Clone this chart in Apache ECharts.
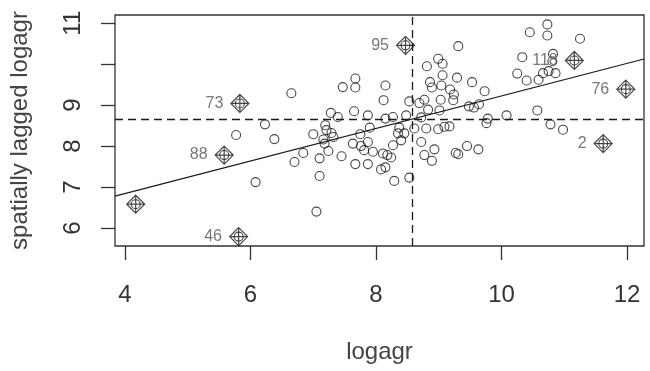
<!DOCTYPE html>
<html>
<head>
<meta charset="utf-8">
<script src="https://cdn.jsdelivr.net/npm/echarts@6/dist/echarts.min.js"></script>
<style>
  html, body { margin: 0; padding: 0; background: #fff; }
  #chart { width: 650px; height: 371px; }
</style>
</head>
<body>
<div id="chart"></div>
<script>
// logagr against its spatial lag (Moran scatterplot)
const logagr = [
	5.77, 6.23, 6.38, 6.08, 6.65, 6.70, 6.84,
	7.00, 7.19, 7.21, 7.29, 7.32, 7.16, 7.18, 7.24, 7.10, 7.10,
	7.05, 7.45, 7.47, 7.67, 7.67, 7.28, 7.39, 7.65, 7.87, 8.15,
	8.12, 8.15, 8.27, 8.48, 7.75, 7.90, 8.37, 8.35, 8.40, 7.63,
	7.76, 7.87, 7.81, 7.95, 8.27, 8.11, 8.18, 8.24, 7.67, 7.87,
	8.08, 8.15, 8.29, 8.53,
	9.31, 10.33, 10.45, 10.73, 10.73, 11.25, 10.82, 10.81, 8.81, 8.99,
	9.06, 9.06, 8.86, 8.89, 9.04, 9.29, 9.18, 9.24, 9.53, 9.73,
	10.25, 10.40, 10.59, 10.66, 10.75, 10.86, 9.23, 9.03, 8.77, 8.53,
	8.69, 8.83, 9.01, 9.48, 9.56, 9.64, 8.72, 9.78, 9.76, 10.08,
	10.57, 10.78, 10.98, 8.61, 8.80, 8.99, 9.09, 9.17, 8.45, 8.72,
	8.93, 8.77, 8.89, 9.27, 9.31, 9.45, 9.63
];
const laggedLogagr = [
	8.27, 8.53, 8.17, 7.12, 9.29, 7.61, 7.83,
	8.29, 8.51, 8.39, 8.32, 8.22, 8.16, 8.06, 7.88, 7.70, 7.27,
	6.40, 7.75, 9.44, 9.65, 9.43, 8.81, 8.71, 8.85, 8.75, 9.48,
	9.12, 8.67, 8.71, 8.75, 8.29, 8.45, 8.45, 8.31, 8.14, 8.06,
	8.00, 8.10, 7.90, 7.86, 8.02, 7.82, 7.78, 7.72, 7.56, 7.56,
	7.43, 7.48, 7.15, 7.23,
	10.44, 10.17, 10.78, 10.97, 10.70, 10.62, 10.25, 10.07, 9.95, 10.13,
	10.01, 9.73, 9.56, 9.43, 9.48, 9.67, 9.38, 9.26, 9.56, 9.34,
	9.77, 9.60, 9.62, 9.78, 9.83, 9.78, 9.12, 9.13, 9.13, 9.09,
	9.05, 8.89, 8.87, 8.97, 8.94, 9.02, 8.70, 8.67, 8.56, 8.75,
	8.87, 8.53, 8.40, 8.43, 8.43, 8.41, 8.47, 8.48, 8.31, 8.10,
	7.92, 7.78, 7.64, 7.83, 7.80, 8.00, 7.92
];

// influential observations (diamond + plus)
const infLabels = [ '73', '95', '118', '76', '2', '88', '', '46' ];
const infX = [ 5.83, 8.47, 11.16, 11.98, 11.62, 5.58, 4.17, 5.81 ];
const infY = [ 9.04, 10.46, 10.09, 9.39, 8.06, 7.78, 6.58, 5.79 ];

const meanX = 8.57;
const meanY = 8.65;
const fitSlope = 0.397;
const fitIntercept = 5.255;

const xTicks = [ 4, 6, 8, 10, 12 ];
const yTicks = [ 6, 7, 8, 9, 10, 11 ];
const yTickLabels = [ 6, 7, 8, 9, 11 ];

const xMin = 3.84, xMax = 12.27;
const yMin = 5.56, yMax = 11.2;

const font = 'Liberation Sans, Arial, Helvetica, sans-serif';
const ink = '#1a1a1a';

const circles = logagr.concat( infX ).map( ( x, i ) => [ x, laggedLogagr.concat( infY )[ i ] ] );
const diamonds = infX.map( ( x, i ) => ( { value: [ x, infY[ i ] ], name: infLabels[ i ] } ) );
const fitLine = [ xMin, xMax ].map( ( x ) => [ x, fitIntercept + fitSlope * x ] );

const chart = echarts.init( document.getElementById( 'chart' ), null, { renderer: 'canvas' } );

chart.setOption( {
	animation: false,
	grid: {
		left: 113,
		right: 6,
		top: 15,
		bottom: 125,
		show: true,
		borderColor: '#333',
		borderWidth: 1.3,
		backgroundColor: 'transparent'
	},
	xAxis: {
		type: 'value',
		min: xMin,
		max: xMax,
		name: 'logagr',
		nameLocation: 'middle',
		nameGap: 94,
		nameTextStyle: { fontSize: 24, color: '#444', fontFamily: font },
		axisLine: { show: false },
		splitLine: { show: false },
		axisTick: { show: true, length: 14, customValues: xTicks, lineStyle: { color: '#333', width: 1.3 } },
		axisLabel: { customValues: xTicks, fontSize: 24, margin: 37, color: '#333', fontFamily: font }
	},
	yAxis: {
		type: 'value',
		min: yMin,
		max: yMax,
		name: 'spatially lagged logagr',
		nameLocation: 'middle',
		nameGap: 83,
		nameTextStyle: { fontSize: 24, color: '#444', fontFamily: font },
		axisLine: { show: false },
		splitLine: { show: false },
		axisTick: { show: true, length: 14, customValues: yTicks, lineStyle: { color: '#333', width: 1.3 } },
		axisLabel: { customValues: yTickLabels, rotate: 90, fontSize: 24, margin: 30, color: '#333', fontFamily: font }
	},
	series: [
		{
			type: 'line',
			data: fitLine,
			showSymbol: false,
			silent: true,
			lineStyle: { color: ink, width: 1.2 },
			markLine: {
				silent: true,
				symbol: 'none',
				label: { show: false },
				lineStyle: { color: ink, width: 1.3, type: [ 8, 5 ] },
				data: [ { xAxis: meanX }, { yAxis: meanY } ]
			}
		},
		{
			type: 'scatter',
			data: circles,
			symbol: 'circle',
			symbolSize: 9,
			itemStyle: { color: 'transparent', borderColor: ink, borderWidth: 1.1 }
		},
		{
			type: 'scatter',
			data: diamonds,
			symbol: 'path://M0,-1L1,0L0,1L-1,0ZM0,-1L0,1M-1,0L1,0',
			symbolSize: 18,
			itemStyle: { color: 'transparent', borderColor: ink, borderWidth: 1.2 },
			label: {
				show: true,
				position: 'left',
				distance: 7,
				formatter: ( p ) => p.name,
				fontSize: 16,
				color: '#555',
				fontFamily: font
			}
		}
	]
} );
</script>
</body>
</html>
